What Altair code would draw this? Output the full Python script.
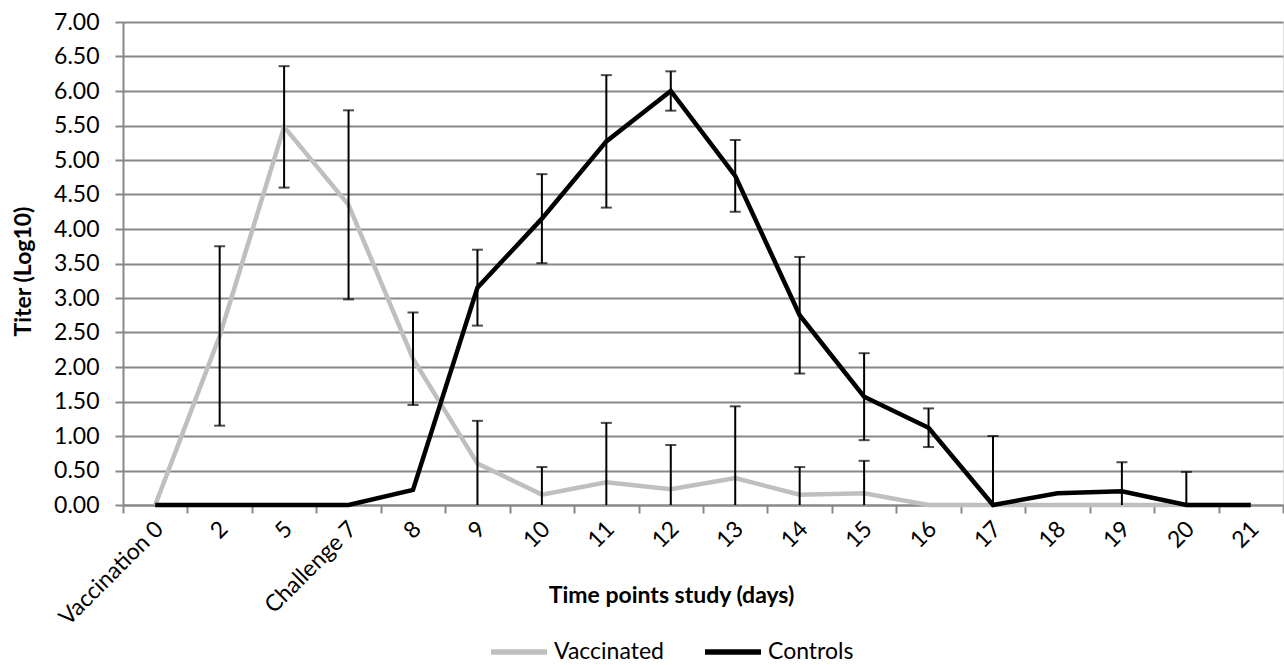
import altair as alt
import pandas as pd

labels = ["Vaccination 0", "2", "5", "Challenge 7", "8", "9", "10", "11", "12",
          "13", "14", "15", "16", "17", "18", "19", "20", "21"]
vaccinated = [0, 2.45, 5.48, 4.35, 2.12, 0.60, 0.15, 0.33, 0.23, 0.39, 0.15, 0.17,
              0, 0, 0, 0, 0, 0]
vaccinated_err = [0, 1.30, 0.88, 1.37, 0.67, 0.62, 0.40, 0.86, 0.64, 1.04, 0.40, 0.47,
                  0, 0, 0, 0, 0, 0]
controls = [0, 0, 0, 0, 0.22, 3.15, 4.15, 5.27, 6.00, 4.77, 2.75, 1.57, 1.12,
            0, 0.17, 0.20, 0, 0]
controls_err = [0, 0, 0, 0, 0, 0.55, 0.645, 0.96, 0.285, 0.52, 0.845, 0.63, 0.28,
                1.00, 0, 0.42, 0.48, 0]
series_names = ["Vaccinated", "Controls"]
y_ticks = [i * 0.5 for i in range(15)]

rows = []
err_rows = []
for name, vals, errs in [(series_names[0], vaccinated, vaccinated_err),
                         (series_names[1], controls, controls_err)]:
    for i, (v, e) in enumerate(zip(vals, errs)):
        rows.append({"idx": i, "label": labels[i], "y": v, "series": name})
        if e > 0:
            lo = v - e
            err_rows.append({"idx": i, "y": max(lo, 0.0), "high": v + e,
                             "lowcap": lo > 0})
df = pd.DataFrame(rows)
edf = pd.DataFrame(err_rows)

# nested ternary: index -> label, '' for half-step tick positions
expr = "''"
for i in reversed(range(len(labels))):
    expr = f"(abs(datum.value - {i}) < 0.01 ? '{labels[i]}' : {expr})"
x_values = [i * 0.5 - 0.5 for i in range(2 * len(labels) + 1)]

GRID = "#888888"
FONT = "Lato"
FS = 23

x_scale = alt.Scale(domain=[-0.5, len(labels) - 0.5], nice=False, zero=False)
y_scale = alt.Scale(domain=[0, 7], nice=False)

x_axis = alt.Axis(
    values=x_values,
    labelExpr=expr,
    tickOpacity={"condition": {"test": "abs(datum.value % 1) < 0.01", "value": 0}, "value": 1},
    grid=False, labelAngle=-45, labelAlign="right", labelBaseline="middle",
    labelOverlap=False, labelFlush=False, labelPadding=12, labelOffset=4,
    labelFontSize=FS, labelFont=FONT, labelColor="black", labelBound=False,
    tickSize=8, tickColor=GRID, tickWidth=2,
    domainColor=GRID, domainWidth=2,
    title="Time points study (days)", titleFont=FONT, titleFontSize=FS,
    titleFontWeight="bold", titleColor="black",
    titleX=548, titleY=97, titleBaseline="alphabetic", titleAnchor="middle",
)
y_axis = alt.Axis(
    values=y_ticks, format=".2f", grid=True, gridColor=GRID, gridWidth=2,
    tickSize=8, tickColor=GRID, tickWidth=2, domainColor=GRID, domainWidth=2,
    labelFontSize=FS, labelFont=FONT, labelColor="black", labelPadding=16,
    labelOverlap=False,
    title="Titer (Log10)", titleFont=FONT, titleFontSize=FS, titleFontWeight="bold",
    titleColor="black", titlePadding=18, titleY=249, titleAnchor="middle",
)

X = alt.X("idx:Q", scale=x_scale, axis=x_axis)
Y = alt.Y("y:Q", scale=y_scale, axis=y_axis)

lines = alt.Chart(df).mark_line(strokeWidth=4.5, strokeCap="butt").encode(
    x=X, y=Y,
    color=alt.Color("series:N",
                    scale=alt.Scale(domain=series_names, range=["#bfbfbf", "#000000"]),
                    sort=series_names,
                    legend=alt.Legend(orient="none", legendX=365, legendY=599,
                                      direction="horizontal", title=None,
                                      symbolType="stroke", symbolSize=3136,
                                      symbolStrokeWidth=5.5, labelFontSize=FS,
                                      labelFont=FONT, labelColor="black",
                                      labelOffset=4, columnPadding=30)),
)

ebase = alt.Chart(edf)
rules = ebase.mark_rule(color="black", strokeWidth=2).encode(x=X, y=Y, y2="high:Q")
topcaps = ebase.transform_calculate(y="datum.high").mark_tick(
    color="black", orient="horizontal", size=11, thickness=2).encode(x=X, y=Y)
lowcaps = ebase.transform_filter("datum.lowcap").mark_tick(
    color="black", orient="horizontal", size=11, thickness=2).encode(x=X, y=Y)

chart = alt.layer(lines, rules, topcaps, lowcaps).properties(
    width=1160, height=483,
    autosize=alt.AutoSizeParams(type="none"),
    padding={"left": 123, "top": 22, "right": 1, "bottom": 160},
).configure_view(stroke=None).configure(background="white")

chart.save("out.html", embed_options={"renderer": "svg", "actions": False})
